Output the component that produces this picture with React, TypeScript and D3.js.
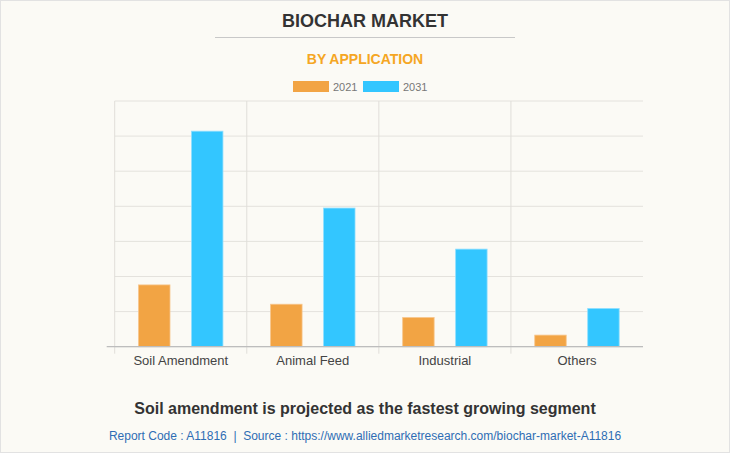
import React from "react";
import * as d3 from "d3";

const categories = ["Soil Amendment", "Animal Feed", "Industrial", "Others"];
const seriesNames = ["2021", "2031"];
const values2021 = [176, 121, 83, 33];
const values2031 = [614, 395, 278, 109];
const yTicks = [0, 100, 200, 300, 400, 500, 600, 700];
const seriesColors = ["#F2A444", "#33C6FF"];

const W = 730;
const H = 453;
const M = { left: 114.7, right: 643, top: 101, bottom: 346.7 };

export default function App() {
  const x0 = d3.scaleBand<string>().domain(categories).range([M.left, M.right]).padding(0);
  const x1 = d3
    .scaleBand<string>()
    .domain(seriesNames)
    .range([0, x0.bandwidth()])
    .paddingInner(0.406)
    .paddingOuter(0.45);
  const y = d3.scaleLinear().domain([0, 700]).range([M.bottom, M.top]);
  const seriesValues = [values2021, values2031];
  const boundaries = categories.map((c) => x0(c) as number).concat([M.right]);

  return (
    <div style={{ position: "absolute", left: 0, top: 0 }}>
      <svg width={W} height={H} style={{ display: "block", fontFamily: "'Liberation Sans', Arial, sans-serif" }}>
        <rect x={0.5} y={0.5} width={W - 1} height={H - 1} fill="#FBFAF5" stroke="#E2E2E2" strokeWidth={1} />
        <text x={365} y={27} textAnchor="middle" fontSize={18} fontWeight="bold" fill="#333">
          BIOCHAR MARKET
        </text>
        <line x1={215} x2={515} y1={37.5} y2={37.5} stroke="#C8C8C8" strokeWidth={1} />
        <text x={365} y={64} textAnchor="middle" fontSize={14} fontWeight="bold" fill="#F5A623">
          BY APPLICATION
        </text>
        {/* legend */}
        {seriesNames.map((s, i) => (
          <g key={s} transform={`translate(${293 + i * 70},81)`}>
            <rect width={36} height={11} fill={seriesColors[i]} />
            <text x={40} y={9.5} fontSize={11} fill="#777">
              {s}
            </text>
          </g>
        ))}
        {/* horizontal grid */}
        {yTicks.map((t) => (
          <line key={t} x1={M.left} x2={M.right} y1={y(t)} y2={y(t)} stroke="#E4E2DD" strokeWidth={1} />
        ))}
        {/* vertical grid */}
        {boundaries.slice(0, 4).map((b, i) => (
          <line key={i} x1={b} x2={b} y1={M.top} y2={M.bottom + 7} stroke="#E0DED9" strokeWidth={1} />
        ))}
        {/* bars */}
        {categories.map((c, ci) =>
          seriesNames.map((s, si) => {
            const v = seriesValues[si][ci];
            const bx = (x0(c) as number) + (x1(s) as number);
            return (
              <rect
                key={c + s}
                x={bx}
                y={y(v)}
                width={x1.bandwidth()}
                height={y(0) - y(v)}
                fill={seriesColors[si]}
                stroke={si === 0 ? "#F7C58A" : "#8FDFFF"}
                strokeWidth={0.8}
              />
            );
          })
        )}
        {/* baseline */}
        <line x1={M.left - 8} x2={M.right} y1={M.bottom} y2={M.bottom} stroke="#BDBDBD" strokeWidth={1.2} />
        {/* category labels */}
        {categories.map((c) => (
          <text
            key={c}
            x={(x0(c) as number) + x0.bandwidth() / 2}
            y={365}
            textAnchor="middle"
            fontSize={13}
            fill="#444"
          >
            {c}
          </text>
        ))}
        <text x={365} y={414} textAnchor="middle" fontSize={16} fontWeight="bold" fill="#333">
          Soil amendment is projected as the fastest growing segment
        </text>
        <text x={365} y={440} textAnchor="middle" fontSize={12} fill="#2E6DB4" style={{ whiteSpace: "pre" }}>
          {"Report Code : A11816  |  Source : https://www.alliedmarketresearch.com/biochar-market-A11816"}
        </text>
      </svg>
    </div>
  );
}
